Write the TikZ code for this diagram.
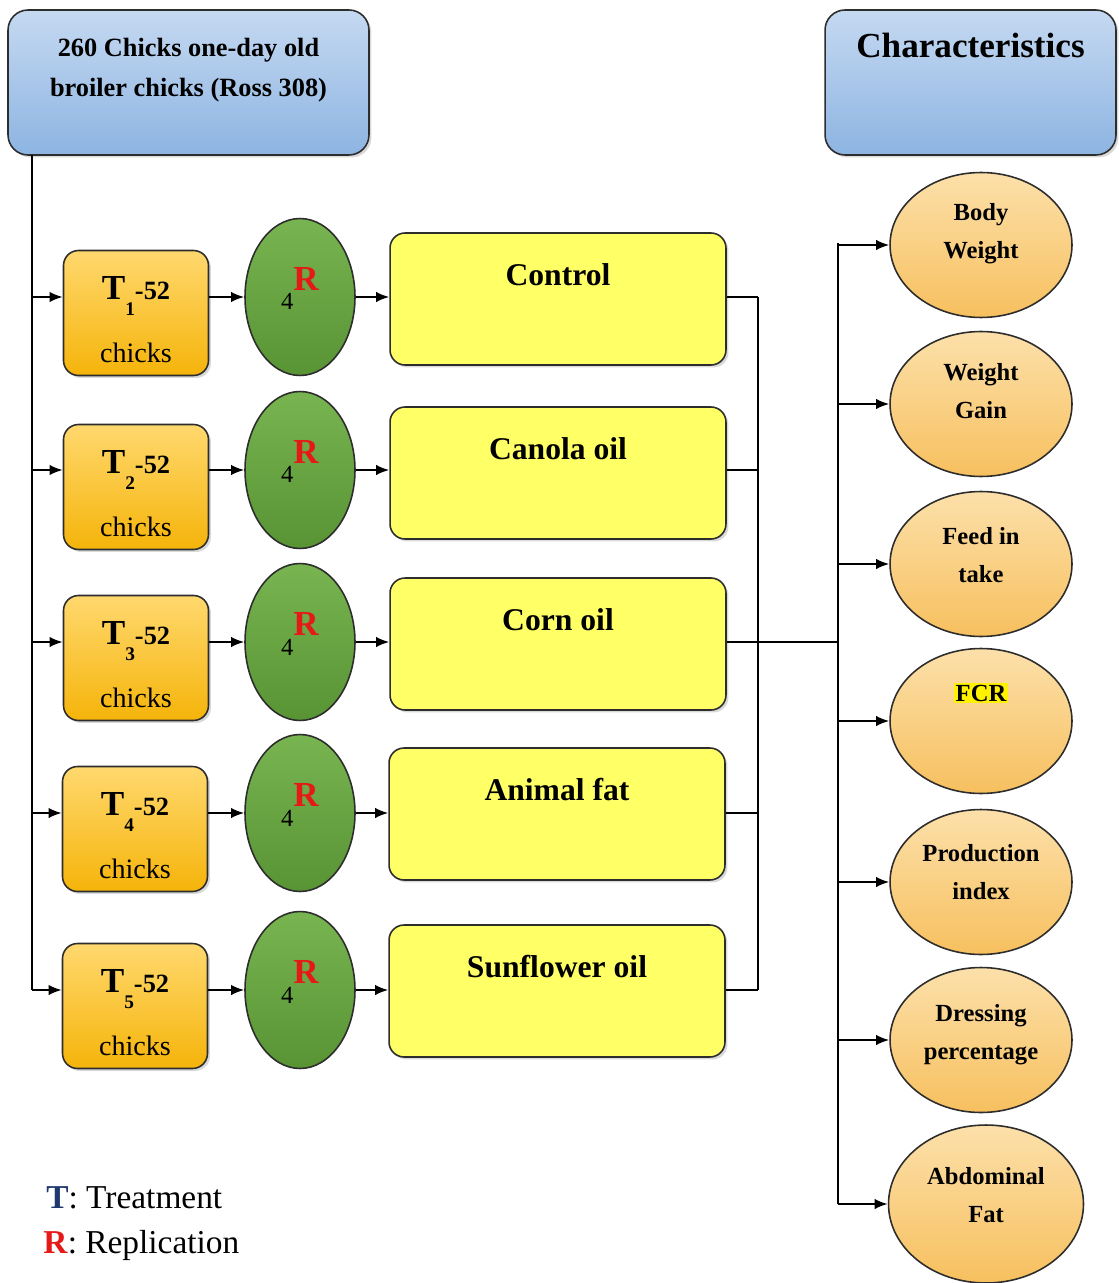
\documentclass[tikz,border=0pt]{standalone}
\usepackage{fontspec}
\setmainfont{Liberation Serif}
\usetikzlibrary{shapes.geometric,shadows,arrows.meta}

\definecolor{boxblueA}{RGB}{197,217,241}
\definecolor{boxblueB}{RGB}{141,180,226}
\definecolor{treatA}{RGB}{255,216,110}
\definecolor{treatB}{RGB}{245,180,10}
\definecolor{repA}{RGB}{120,180,80}
\definecolor{repB}{RGB}{88,148,52}
\definecolor{dietyellow}{RGB}{255,255,102}
\definecolor{charA}{RGB}{252,224,170}
\definecolor{charB}{RGB}{247,192,95}
\definecolor{edgegray}{RGB}{45,45,45}
\definecolor{tnavy}{RGB}{31,56,110}
\definecolor{rred}{RGB}{230,25,25}

\newcommand{\liftbox}[2]{\raisebox{#1}[0pt][0pt]{\begin{tabular}{@{}c@{}}#2\end{tabular}}}
\newcommand{\tlabel}[1]{{\fontsize{20}{20}\selectfont\bfseries T}\raisebox{-9pt}{\fontsize{11}{11}\selectfont\bfseries #1}{\fontsize{15}{15}\selectfont\bfseries -52}}
\newcommand{\reptext}{\raisebox{0.14cm}[0pt][0pt]{\raisebox{-0.4cm}{4}{\fontsize{20}{20}\selectfont\bfseries\color{rred}R}}}

\begin{document}
\begin{tikzpicture}[x=0.02cm, y=-0.02cm, >={Latex[length=7.5pt,width=6pt]}]
    \useasboundingbox (0,0) rectangle (1118,1283);

    \begin{scope}[every node/.style={rectangle, rounded corners=0.4cm, draw=edgegray, line width=0.9pt, top color=boxblueA, bottom color=boxblueB, minimum height=2.9cm, inner sep=0pt, drop shadow={opacity=0.3, shadow xshift=0.05cm, shadow yshift=-0.05cm}}]
        \node[minimum width=7.22cm, font=\fontsize{15}{22.7}\selectfont\bfseries] (chicks) at (188.5,82.5) {\liftbox{0.16cm}{260 Chicks one-day old\\broiler chicks (Ross 308)}};
        \node[minimum width=5.82cm, font=\fontsize{20}{24}\selectfont\bfseries] (charac) at (970.5,82.5) {\liftbox{0.49cm}{Characteristics}};
    \end{scope}

    \begin{scope}[every node/.style={rectangle, rounded corners=0.3cm, draw=edgegray, line width=0.9pt, top color=treatA, bottom color=treatB, minimum width=2.9cm, minimum height=2.5cm, inner sep=0pt, font=\fontsize{16}{35.7}\selectfont, drop shadow={opacity=0.3, shadow xshift=0.05cm, shadow yshift=-0.05cm}}]
        \node (t1) at (136,313) {\liftbox{-0.26cm}{\tlabel{1}\\chicks}};
        \node (t2) at (136,487) {\liftbox{-0.26cm}{\tlabel{2}\\chicks}};
        \node (t3) at (136,658) {\liftbox{-0.26cm}{\tlabel{3}\\chicks}};
        \node (t4) at (135,829) {\liftbox{-0.26cm}{\tlabel{4}\\chicks}};
        \node (t5) at (135,1006) {\liftbox{-0.26cm}{\tlabel{5}\\chicks}};
    \end{scope}

    \begin{scope}[every node/.style={ellipse, draw=edgegray, line width=0.9pt, top color=repA, bottom color=repB, minimum width=2.2cm, minimum height=3.14cm, inner sep=0pt, font=\fontsize{14}{16}\selectfont}]
        \node (r1) at (300,297) {\reptext};
        \node (r2) at (300,470) {\reptext};
        \node (r3) at (300,642) {\reptext};
        \node (r4) at (300,813) {\reptext};
        \node (r5) at (300,990) {\reptext};
    \end{scope}

    \begin{scope}[every node/.style={rectangle, rounded corners=0.3cm, draw=edgegray, line width=0.9pt, fill=dietyellow, minimum width=6.72cm, minimum height=2.64cm, inner sep=0pt, font=\fontsize{18}{21.6}\selectfont\bfseries, drop shadow={opacity=0.3, shadow xshift=0.05cm, shadow yshift=-0.05cm}}]
        \node (d1) at (558,299) {\liftbox{0.28cm}{Control}};
        \node (d2) at (558,473) {\liftbox{0.28cm}{Canola oil}};
        \node (d3) at (558,644) {\liftbox{0.28cm}{Corn oil}};
        \node (d4) at (557,814) {\liftbox{0.28cm}{Animal fat}};
        \node (d5) at (557,991) {\liftbox{0.28cm}{Sunflower oil}};
    \end{scope}

    \begin{scope}[every node/.style={ellipse, draw=edgegray, line width=0.9pt, top color=charA, bottom color=charB, minimum width=3.64cm, minimum height=2.9cm, inner sep=0pt, font=\fontsize{14}{22}\selectfont\bfseries}]
        \node (c1) at (981,245) {\liftbox{0.14cm}{Body\\Weight}};
        \node (c2) at (981,404) {\liftbox{0.12cm}{Weight\\Gain}};
        \node (c3) at (981,564) {\liftbox{0.04cm}{Feed in\\take}};
        \node (c4) at (981,721) {\liftbox{0.42cm}{\setlength{\fboxsep}{1pt}\colorbox{yellow}{FCR}}};
        \node (c5) at (981,882) {\liftbox{0.06cm}{Production\\index}};
        \node (c6) at (981,1040) {\liftbox{0.02cm}{Dressing\\percentage}};
        \node[minimum width=3.9cm, minimum height=3.16cm] (c7) at (986,1204) {\liftbox{0.04cm}{Abdominal\\Fat}};
    \end{scope}

    \begin{scope}[every node/.style={anchor=base west, inner sep=0pt, font=\fontsize{19}{22}\selectfont}]
        \node (legT) at (46,1208) {\textcolor{tnavy}{\textbf{T}}: Treatment};
        \node (legR) at (43,1253) {\textcolor{rred}{\textbf{R}}: Replication};
    \end{scope}

    \coordinate (lt) at (32,155);
    \coordinate (bt) at (758,297);
    \coordinate (rt) at (838,243);

    \begin{scope}[every edge/.style={draw, line width=1.1pt}]
        \path [-] (lt) edge (lt |- r5);
        \path [->] (lt |- r1) edge (t1.west |- r1);
        \path [->] (lt |- r2) edge (t2.west |- r2);
        \path [->] (lt |- r3) edge (t3.west |- r3);
        \path [->] (lt |- r4) edge (t4.west |- r4);
        \path [->] (lt |- r5) edge (t5.west |- r5);

        \path [->] (t1.east |- r1) edge (r1);
        \path [->] (t2.east |- r2) edge (r2);
        \path [->] (t3.east |- r3) edge (r3);
        \path [->] (t4.east |- r4) edge (r4);
        \path [->] (t5.east |- r5) edge (r5);

        \path [->] (r1) edge (d1.west |- r1);
        \path [->] (r2) edge (d2.west |- r2);
        \path [->] (r3) edge (d3.west |- r3);
        \path [->] (r4) edge (d4.west |- r4);
        \path [->] (r5) edge (d5.west |- r5);

        \path [-] (d1.east |- r1) edge (bt |- r1);
        \path [-] (d2.east |- r2) edge (bt |- r2);
        \path [-] (d3.east |- r3) edge (rt |- r3);
        \path [-] (d4.east |- r4) edge (bt |- r4);
        \path [-] (d5.east |- r5) edge (bt |- r5);
        \path [-] (bt) edge (bt |- r5);

        \path [-] (rt) edge (rt |- c7);
        \path [->] (rt |- c1) edge (c1);
        \path [->] (rt |- c2) edge (c2);
        \path [->] (rt |- c3) edge (c3);
        \path [->] (rt |- c4) edge (c4);
        \path [->] (rt |- c5) edge (c5);
        \path [->] (rt |- c6) edge (c6);
        \path [->] (rt |- c7) edge (c7);
    \end{scope}
\end{tikzpicture}
\end{document}
